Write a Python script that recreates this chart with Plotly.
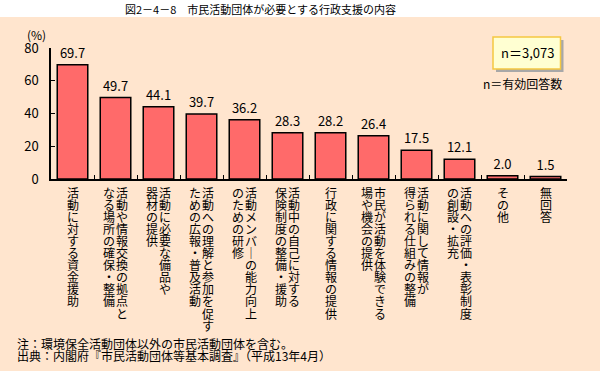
import plotly.graph_objects as go

# ---- data ----
categories = [
    "活動に対する資金援助",
    "活動や情報交換の拠点と\nなる場所の確保・整備",
    "活動に必要な備品や\n器材の提供",
    "活動への理解と参加を促す\nための広報・普及活動",
    "活動メンバーの能力向上\nのための研修",
    "活動中の自己に対する\n保険制度の整備・援助",
    "行政に関する情報の提供",
    "市民が活動を体験できる\n場や機会の提供",
    "活動に関して情報が\n得られる仕組みの整備",
    "活動への評価・表彰制度\nの創設・拡充",
    "その他",
    "無回答",
]
values = [69.7, 49.7, 44.1, 39.7, 36.2, 28.3, 28.2, 26.4, 17.5, 12.1, 2.0, 1.5]
y_ticks = [0, 20, 40, 60, 80]

title_text = "図2－4－8　市民活動団体が必要とする行政支援の内容"
note_lines = [
    "注：環境保全活動団体以外の市民活動団体を含む。",
    "出典：内閣府『市民活動団体等基本調査』（平成13年4月）",
]
n_text = "n＝3,073"
n_note = "n＝有効回答数"

# ---- layout geometry (pixels) ----
W, H = 600, 371
L, R, T, B = 51, 33, 48, 192
PW, PH = W - L - R, H - T - B

def px(x):
    return (x - L) / PW

def py(y):
    return (H - B - y) / PH

FONT = "Noto Sans CJK JP, Noto Sans, sans-serif"
BG = "#FFE5CE"
BAR = "#FF6A6A"

fig = go.Figure()
fig.add_trace(go.Bar(
    x=categories, y=values,
    marker=dict(color=BAR, line=dict(color="black", width=1.5)),
    width=0.71,
    text=[f"{v:.1f}" for v in values],
    textposition="outside",
    textfont=dict(family=FONT, size=13, color="black"),
    cliponaxis=False,
    hoverinfo="skip",
))

annotations = []
shapes = []

# vertical category labels, one char per annotation
for cat in categories:
    cols = cat.split("\n")
    if len(cols) == 1:
        offsets = [0]
    else:
        offsets = [6, -7]
    for col, off in zip(cols, offsets):
        for k, ch in enumerate(col):
            if ch == "ー":
                ch = "｜"
            annotations.append(dict(
                x=cat, xref="x", xshift=off,
                y=py(192 + k * 12.1), yref="paper",
                text=ch, showarrow=False,
                xanchor="center", yanchor="middle",
                font=dict(family=FONT, size=12, color="black"),
            ))

# title band
shapes.append(dict(type="rect", xref="paper", yref="paper",
                   x0=px(0), x1=px(W), y0=py(17), y1=py(0),
                   fillcolor="white", line=dict(width=0), layer="below"))
annotations.append(dict(x=px(260), y=py(8.5), xref="paper", yref="paper",
                        text=title_text, showarrow=False,
                        xanchor="center", yanchor="middle",
                        font=dict(family=FONT, size=11, color="black")))

# (%) label
annotations.append(dict(x=px(36), y=py(35), xref="paper", yref="paper",
                        text="(%)", showarrow=False,
                        xanchor="center", yanchor="middle",
                        font=dict(family=FONT, size=12, color="black")))

# n box with shadow
shapes.append(dict(type="rect", xref="paper", yref="paper",
                   x0=px(496), x1=px(563.5), y0=py(72), y1=py(40),
                   fillcolor="#A8A8A8", line=dict(width=0)))
shapes.append(dict(type="rect", xref="paper", yref="paper",
                   x0=px(493), x1=px(560.5), y0=py(69), y1=py(37),
                   fillcolor="#FFFFD2", line=dict(color="#F5C842", width=1.5)))
annotations.append(dict(x=px(527.5), y=py(53), xref="paper", yref="paper",
                        text=n_text, showarrow=False,
                        xanchor="center", yanchor="middle",
                        font=dict(family=FONT, size=13, color="black")))
annotations.append(dict(x=px(522), y=py(83), xref="paper", yref="paper",
                        text=n_note, showarrow=False,
                        xanchor="center", yanchor="middle",
                        font=dict(family=FONT, size=12, color="black")))

# footnotes
for i, line in enumerate(note_lines):
    annotations.append(dict(x=px(15), y=py(343 + 12 * i), xref="paper", yref="paper",
                            text=line, showarrow=False,
                            xanchor="left", yanchor="middle",
                            font=dict(family=FONT, size=12, color="black")))

fig.update_layout(
    width=W, height=H,
    margin=dict(l=L, r=R, t=T, b=B, pad=0),
    paper_bgcolor=BG, plot_bgcolor=BG,
    showlegend=False,
    bargap=0.29,
    annotations=annotations,
    shapes=shapes,
    font=dict(family=FONT, size=12, color="black"),
)
fig.update_xaxes(
    type="category", showticklabels=False,
    showline=True, linecolor="black", linewidth=1.5,
    ticks="inside", tickson="boundaries", ticklen=4, tickcolor="black", tickwidth=1,
    showgrid=False, zeroline=False, fixedrange=True,
)
fig.update_yaxes(
    range=[0, 80], tickvals=y_ticks, ticktext=[str(t) for t in y_ticks],
    showline=True, linecolor="black", linewidth=1.5,
    ticks="inside", ticklen=4, tickcolor="black", tickwidth=1,
    tickfont=dict(family=FONT, size=13, color="black"),
    ticklabelstandoff=8,
    showgrid=False, zeroline=False, fixedrange=True,
)

fig.write_html(
    "out.html",
    config={"displayModeBar": False},
    post_script="document.body.style.margin='0';document.body.style.overflow='hidden';",
)
